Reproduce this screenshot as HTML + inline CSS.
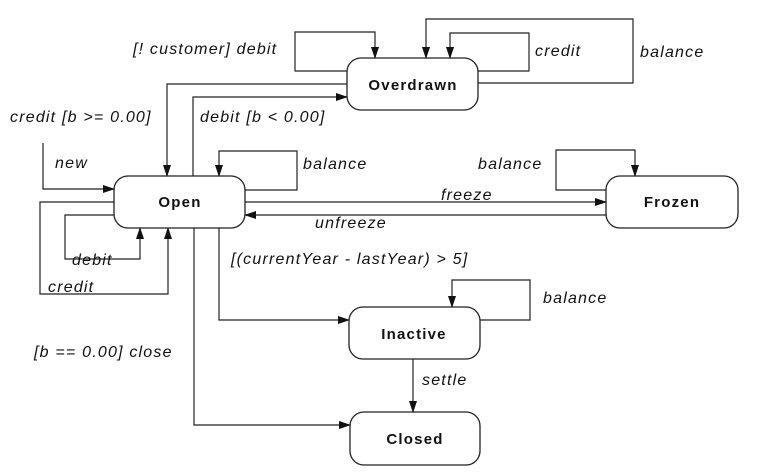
<!DOCTYPE html>
<html><head><style>
body{margin:0;background:#fff}
svg{display:block}
text{font-family:"Liberation Sans",sans-serif;font-size:16px;letter-spacing:1.2px;font-style:italic;fill:#111}
text.b{font-weight:bold;font-style:normal;font-size:15px;letter-spacing:1.2px;text-anchor:middle}
</style></head><body>
<svg width="761" height="475" viewBox="0 0 761 475">
<defs><marker id="a" markerWidth="12" markerHeight="10" refX="11" refY="5" orient="auto" markerUnits="userSpaceOnUse"><path d="M0,1 L12,5 L0,9 Z" fill="#111"/></marker></defs>
<g fill="#fff" stroke="#222" stroke-width="1.3">
<rect x="114" y="176" width="131" height="52" rx="14"/>
<rect x="347" y="58" width="131" height="52" rx="14"/>
<rect x="606" y="176" width="132" height="52" rx="14"/>
<rect x="349" y="307" width="131" height="52" rx="14"/>
<rect x="350" y="412" width="130" height="53" rx="14"/>
</g>
<g fill="none" stroke="#222" stroke-width="1.2" marker-end="url(#a)">
<path d="M347,84 H167 V176"/>
<path d="M193,176 V97 H347"/>
<path d="M347,71 H295 V32 H375 V58"/>
<path d="M478,71 H529 V33 H450 V58"/>
<path d="M478,83 H633 V19 H426 V58"/>
<path d="M245,190 H297 V151 H219 V176"/>
<path d="M43,143 V189 H114"/>
<path d="M114,202 H40 V294 H168 V228"/>
<path d="M114,215 H65 V259 H140 V228"/>
<path d="M245,202 H606"/>
<path d="M606,215 H245"/>
<path d="M606,190 H556 V150 H635 V176"/>
<path d="M219,228 V320 H349"/>
<path d="M194,228 V425 H350"/>
<path d="M480,320 H530 V280 H452 V307"/>
<path d="M413,359 V412"/>
</g>
<text class="b" x="180" y="207">Open</text>
<text class="b" x="413" y="90">Overdrawn</text>
<text class="b" x="672" y="207">Frozen</text>
<text class="b" x="414" y="339">Inactive</text>
<text class="b" x="415" y="444">Closed</text>
<text x="133" y="54">[! customer] debit</text>
<text x="535" y="56">credit</text>
<text x="640" y="57">balance</text>
<text x="10" y="122">credit [b &gt;= 0.00]</text>
<text x="200" y="122">debit [b &lt; 0.00]</text>
<text x="55" y="168">new</text>
<text x="303" y="169">balance</text>
<text x="478" y="169">balance</text>
<text x="441" y="200">freeze</text>
<text x="315" y="228">unfreeze</text>
<text x="72" y="265">debit</text>
<text x="48" y="292">credit</text>
<text x="231" y="264">[(currentYear - lastYear) &gt; 5]</text>
<text x="543" y="303">balance</text>
<text x="34" y="357">[b == 0.00] close</text>
<text x="422" y="385">settle</text>
</svg>
</body></html>
